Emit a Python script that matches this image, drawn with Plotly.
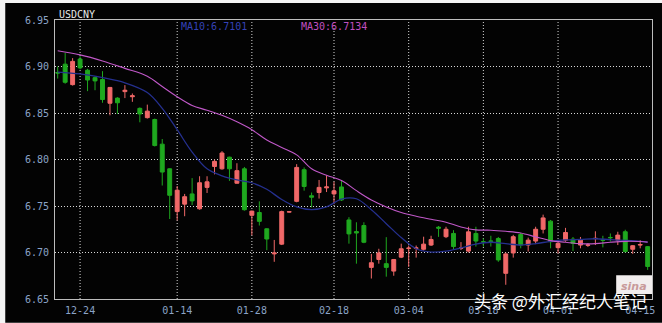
import plotly.graph_objects as go

# ---------------- data ----------------
opens = [6.8935, 6.9025, 6.8805, 6.9080, 6.8960, 6.8880, 6.8860, 6.8605, 6.8660, 6.8730,
         6.8675, 6.8550, 6.8450, 6.8430, 6.8165, 6.7900, 6.7440, 6.7520, 6.7630, 6.7470,
         6.7700, 6.7925, 6.7900, 6.8025, 6.7745, 6.7900, 6.7400, 6.7430, 6.7255, 6.6985,
         6.7090, 6.7435, 6.7550, 6.7890, 6.7610, 6.7645, 6.7695, 6.7630, 6.7705, 6.7350,
         6.7225, 6.7290, 6.6840, 6.6925, 6.6880, 6.6800, 6.6950, 6.7042, 6.7045, 6.7035,
         6.7080, 6.7272, 6.7170, 6.7205, 6.7044, 6.7015, 6.7205, 6.7116, 6.7124, 6.7150,
         6.6776, 6.6995, 6.7194, 6.7080, 6.7123, 6.7250, 6.7337, 6.7052, 6.7133, 6.7144,
         6.7080, 6.7078, 6.7149, 6.7135, 6.7162, 6.7133, 6.7223, 6.7035, 6.7080, 6.7063]
highs = [6.9000, 6.9145, 6.9090, 6.9110, 6.8975, 6.8895, 6.8950, 6.8780, 6.8670, 6.8800,
         6.8710, 6.8560, 6.8590, 6.8440, 6.8220, 6.7905, 6.7715, 6.7630, 6.7800, 6.7820,
         6.7820, 6.8000, 6.8090, 6.8030, 6.7960, 6.7920, 6.7450, 6.7550, 6.7260, 6.7135,
         6.7450, 6.7440, 6.7950, 6.7915, 6.7645, 6.7780, 6.7830, 6.7760, 6.7770, 6.7380,
         6.7325, 6.7325, 6.6985, 6.7040, 6.7165, 6.6930, 6.7095, 6.7075, 6.7075, 6.7170,
         6.7180, 6.7285, 6.7277, 6.7240, 6.7112, 6.7277, 6.7277, 6.7152, 6.7180, 6.7167,
         6.7000, 6.7190, 6.7210, 6.7160, 6.7277, 6.7407, 6.7350, 6.7122, 6.7265, 6.7167,
         6.7167, 6.7100, 6.7228, 6.7180, 6.7205, 6.7223, 6.7245, 6.7080, 6.7133, 6.7070]
lows = [6.8870, 6.8815, 6.8795, 6.8970, 6.8735, 6.8745, 6.8610, 6.8475, 6.8490, 6.8660,
        6.8620, 6.8400, 6.8440, 6.8140, 6.7720, 6.7360, 6.7345, 6.7390, 6.7510, 6.7460,
        6.7640, 6.7840, 6.7890, 6.7770, 6.7740, 6.7450, 6.7185, 6.7290, 6.7025, 6.6900,
        6.7080, 6.7430, 6.7540, 6.7665, 6.7485, 6.7580, 6.7650, 6.7520, 6.7555, 6.7095,
        6.6880, 6.7100, 6.6720, 6.6880, 6.6740, 6.6750, 6.6940, 6.6845, 6.6945, 6.7020,
        6.7070, 6.7168, 6.7155, 6.7027, 6.7027, 6.7000, 6.7064, 6.7064, 6.7064, 6.6900,
        6.6653, 6.6945, 6.7045, 6.7010, 6.7090, 6.7205, 6.7045, 6.6990, 6.7116, 6.7015,
        6.7045, 6.7060, 6.7080, 6.7055, 6.7117, 6.7080, 6.7000, 6.6985, 6.7045, 6.6813]
closes = [6.8930, 6.8830, 6.9055, 6.8985, 6.8855, 6.8845, 6.8645, 6.8775, 6.8610, 6.8745,
          6.8685, 6.8490, 6.8520, 6.8150, 6.7865, 6.7615, 6.7670, 6.7600, 6.7555, 6.7750,
          6.7760, 6.7980, 6.8070, 6.7900, 6.7880, 6.7460, 6.7445, 6.7335, 6.7145, 6.6995,
          6.7440, 6.7438, 6.7915, 6.7710, 6.7595, 6.7700, 6.7705, 6.7663, 6.7565, 6.7200,
          6.7210, 6.7110, 6.6890, 6.6995, 6.6840, 6.6925, 6.7040, 6.7047, 6.7049, 6.7090,
          6.7140, 6.7262, 6.7250, 6.7064, 6.7047, 6.7222, 6.7123, 6.7112, 6.7120, 6.6920,
          6.6985, 6.7170, 6.7080, 6.7133, 6.7250, 6.7372, 6.7116, 6.7098, 6.7215, 6.7098,
          6.7133, 6.7081, 6.7152, 6.7132, 6.7159, 6.7187, 6.7010, 6.7073, 6.7085, 6.6850]

# moving-average lines, read at every second candle
ma_idx = [0, 3, 6, 9, 12, 14, 16, 18, 20, 22, 24, 26, 28, 30, 32, 34, 36, 38, 40, 42,
          44, 46, 48, 50, 52, 54, 56, 58, 60, 62, 64, 66, 68, 70, 72, 74, 76, 78, 79]
ma10 = [6.8940, 6.8920, 6.8880, 6.8825, 6.8720, 6.8550, 6.8320, 6.8080, 6.7900, 6.7825,
        6.7780, 6.7750, 6.7680, 6.7570, 6.7490, 6.7460, 6.7490, 6.7575, 6.7578, 6.7460,
        6.7310, 6.7160, 6.7040, 6.7005, 6.7015, 6.7050, 6.7090, 6.7110, 6.7095, 6.7080,
        6.7095, 6.7120, 6.7135, 6.7140, 6.7148, 6.7138, 6.7130, 6.7120, 6.7112]
ma30 = [6.9170, 6.9125, 6.9060, 6.8980, 6.8895, 6.8785, 6.8675, 6.8580, 6.8530, 6.8475,
        6.8405, 6.8320, 6.8210, 6.8130, 6.8050, 6.7900, 6.7830, 6.7775, 6.7665, 6.7565,
        6.7490, 6.7430, 6.7390, 6.7357, 6.7325, 6.7275, 6.7243, 6.7240, 6.7228, 6.7210,
        6.7168, 6.7128, 6.7110, 6.7095, 6.7095, 6.7110, 6.7120, 6.7118, 6.7112]

tick_idx = [3, 16, 26, 37, 47, 57, 67, 78]
tick_labels = ["12-24", "01-14", "01-28", "02-18", "03-04", "03-18", "04-01", "04-15"]
y_ticks = [6.65, 6.70, 6.75, 6.80, 6.85, 6.90, 6.95]

symbol = "USDCNY"
ma10_label = "MA10:6.7101"
ma30_label = "MA30:6.7134"
watermark = "头条 @外汇经纪人笔记"

# ---------------- figure ----------------
x = list(range(len(opens)))
RED = "#f06868"
GREEN = "#1fa81f"
MONO = "DejaVu Sans Mono, Liberation Mono, monospace"
DOT = "1px,2px"

fig = go.Figure()
fig.add_trace(go.Candlestick(
    x=x, open=opens, high=highs, low=lows, close=closes,
    increasing=dict(line=dict(color=RED, width=1), fillcolor=RED),
    decreasing=dict(line=dict(color=GREEN, width=1), fillcolor=GREEN),
    whiskerwidth=0, showlegend=False, hoverinfo="skip"))
fig.add_trace(go.Scatter(x=ma_idx, y=ma10, mode="lines", line=dict(color="#25308f", width=1.3, shape="spline"),
                         showlegend=False, hoverinfo="skip"))
fig.add_trace(go.Scatter(x=ma_idx, y=ma30, mode="lines", line=dict(color="#c058c8", width=1.1, shape="spline"),
                         showlegend=False, hoverinfo="skip"))

L, R, T, B = 55, 7, 20, 22
W, H = 662, 323
pw, ph = W - L - R, H - T - B

shapes = []
# dark canvas leaving a thin light strip at top and left
shapes.append(dict(type="rect", xref="paper", yref="paper", layer="below",
                   x0=(5 - L) / pw, x1=(W - L) / pw + 0.02,
                   y0=-(B + 2) / ph, y1=1 + (T - 3) / ph,
                   fillcolor="#030303", line=dict(width=0)))
for t in tick_idx[:-1]:
    shapes.append(dict(type="line", xref="x", yref="paper", x0=t, x1=t, y0=0, y1=1,
                       layer="below", line=dict(color="#d8d8d8", width=1, dash=DOT)))
# sina logo box
shapes.append(dict(type="rect", xref="paper", yref="paper",
                   x0=(619 - L) / pw, x1=(655 - L) / pw,
                   y0=(H - B - 296) / ph, y1=(H - B - 277) / ph,
                   fillcolor="#f2eeee", line=dict(width=0), layer="above"))

annotations = [
    dict(text=symbol, xref="paper", yref="paper", x=(57 - L) / pw, y=(H - B - 14) / ph,
         xanchor="left", yanchor="middle", showarrow=False,
         font=dict(family=MONO, size=10, color="#e6e6e6")),
    dict(text=ma10_label, xref="paper", yref="paper", x=(180 - L) / pw, y=(H - B - 26.5) / ph,
         xanchor="left", yanchor="middle", showarrow=False,
         font=dict(family=MONO, size=10, color="#3442b8")),
    dict(text=ma30_label, xref="paper", yref="paper", x=(300 - L) / pw, y=(H - B - 26.5) / ph,
         xanchor="left", yanchor="middle", showarrow=False,
         font=dict(family=MONO, size=10, color="#c050c0")),
    dict(text="<b><i>sina</i></b>", xref="paper", yref="paper", x=(637 - L) / pw, y=(H - B - 288) / ph,
         xanchor="center", yanchor="middle", showarrow=False,
         font=dict(family="DejaVu Sans", size=11, color="#c89a9a")),
    dict(text=watermark, xref="paper", yref="paper", x=(652 - L) / pw, y=(H - B - 303) / ph,
         xanchor="right", yanchor="middle", showarrow=False,
         font=dict(family="Noto Sans CJK SC", size=17, color="#ffffff")),
]

fig.update_layout(
    width=W, height=H, margin=dict(l=L, r=R, t=T, b=B, pad=0),
    paper_bgcolor="#f4f4f4", plot_bgcolor="#030303",
    boxgap=0.25, shapes=shapes, annotations=annotations,
    xaxis=dict(range=[-0.36, 79.58], rangeslider=dict(visible=False),
               tickmode="array", tickvals=tick_idx, ticktext=tick_labels,
               showgrid=False, zeroline=False, ticks="", ticklabelstandoff=2,
               showline=True, mirror=True, linecolor="#bdbdbd", linewidth=1,
               tickfont=dict(family=MONO, size=10, color="#8ba3c7")),
    yaxis=dict(range=[6.65, 6.95], tickmode="array", tickvals=y_ticks, tickformat=".2f",
               showgrid=True, gridcolor="#d8d8d8", griddash=DOT, gridwidth=1,
               zeroline=False, ticks="", ticklabelstandoff=3,
               showline=True, mirror=True, linecolor="#bdbdbd", linewidth=1,
               tickfont=dict(family=MONO, size=10, color="#8ba3c7")),
)

fig.write_html("out.html")
